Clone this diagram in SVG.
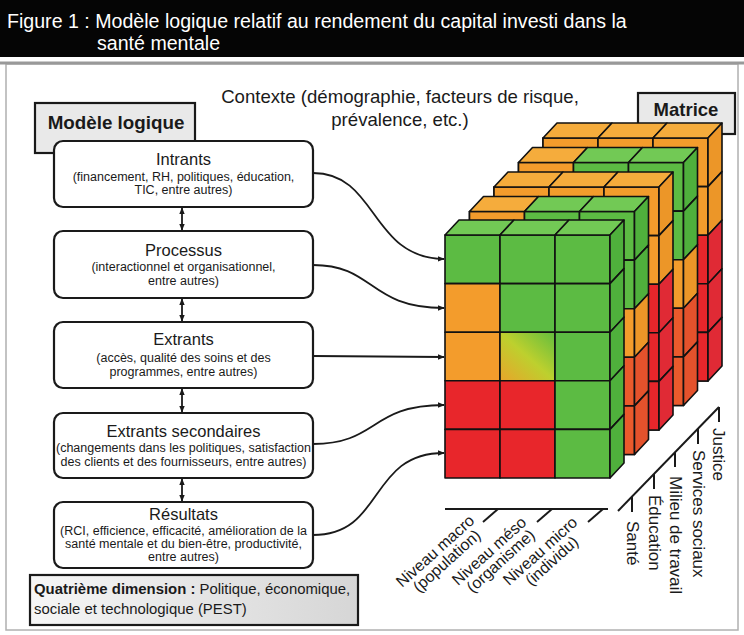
<svg xmlns="http://www.w3.org/2000/svg" width="744" height="635" viewBox="0 0 744 635">
<defs>
<style>
text{font-family:"Liberation Sans",Arial,sans-serif;fill:#1a1a1a}
.hd{fill:#fff;font-size:19.6px}
.box{fill:#fff;stroke:#1a1a1a;stroke-width:2.2}
.lbl{fill:#e9e9e9;stroke:#1a1a1a;stroke-width:2.2}
.ti{font-size:16.5px;text-anchor:middle}
.su{font-size:12.5px;text-anchor:middle}
.cx{font-size:18.6px;text-anchor:middle}
.bd{font-weight:bold}
.cb rect,.cb polygon{stroke:#111;stroke-width:1.6;stroke-linejoin:round}
.g{fill:#5cbb43}.gt{fill:#72c955}.gs{fill:#4fb03c}
.o{fill:#f39c2c}.ot{fill:#f5ac3c}.os{fill:#ec9628}
.r{fill:#e8262b}.rs{fill:#e02a35}
.q{fill:#ea5a2c}.qs{fill:#e4522c}
.yg{fill:url(#yg)}
.con{fill:none;stroke:#1a1a1a;stroke-width:1.8;marker-end:url(#ah)}
.dbl{fill:none;stroke:#1a1a1a;stroke-width:1.8;marker-start:url(#ah);marker-end:url(#ah)}
.ax{fill:none;stroke:#1a1a1a;stroke-width:2}
.al{font-size:16px;text-anchor:middle}
.ar{font-size:17px}
</style>
<marker id="ah" viewBox="0 0 10 10" refX="9" refY="5" markerWidth="7" markerHeight="7" orient="auto-start-reverse" markerUnits="userSpaceOnUse"><path d="M0,1 L10,5 L0,9 z" fill="#1a1a1a"/></marker>
<linearGradient id="yg" x1="0" y1="1" x2="1" y2="0"><stop offset="0" stop-color="#e9a42a"/><stop offset="0.5" stop-color="#bdd02e"/><stop offset="1" stop-color="#62bd3e"/></linearGradient>
<linearGradient id="qg" x1="0" y1="0" x2="1" y2="0"><stop offset="0" stop-color="#f6f6f6"/><stop offset="1" stop-color="#d6d6d6"/></linearGradient>
</defs>

<g id="header">
<rect x="0" y="0" width="744" height="57" fill="#050505"/>
<text class="hd" x="7" y="28">Figure 1 : Modèle logique relatif au rendement du capital investi dans la</text>
<text class="hd" x="97" y="50">santé mentale</text>
</g>
<g id="panel">
<rect x="6" y="64" width="732" height="566" fill="#fff" stroke="#b0b0b0" stroke-width="1.5"/>
<line x1="0" y1="63" x2="744" y2="63" stroke="#999" stroke-width="3"/>
</g>

<g id="contexte"><text class="cx" x="400" y="103">Contexte (démographie, facteurs de risque,</text><text class="cx" x="400" y="126">prévalence, etc.)</text></g>

<g id="modele-logique"><rect class="lbl" x="35" y="103" width="160" height="50"/><text class="bd" x="116" y="129" font-size="18.8" text-anchor="middle">Modèle logique</text></g>

<g id="matrice"><rect class="lbl" x="638" y="93" width="97" height="41"/><text class="bd" x="686" y="116" font-size="18.5" text-anchor="middle">Matrice</text></g>

<g id="intrants"><rect class="box" x="54" y="141" width="259" height="66" rx="9"/><text class="ti" x="183.5" y="165">Intrants</text><text class="su" x="183.5" y="181">(financement, RH, politiques, éducation,</text><text class="su" x="183.5" y="194">TIC, entre autres)</text></g>
<g id="processus"><rect class="box" x="54" y="231" width="259" height="67" rx="9"/><text class="ti" x="183.5" y="256">Processus</text><text class="su" x="183.5" y="271">(interactionnel et organisationnel,</text><text class="su" x="183.5" y="285">entre autres)</text></g>
<g id="extrants"><rect class="box" x="54" y="322" width="259" height="66" rx="9"/><text class="ti" x="183.5" y="345">Extrants</text><text class="su" x="183.5" y="362">(accès, qualité des soins et des</text><text class="su" x="183.5" y="376">programmes, entre autres)</text></g>
<g id="extrants-secondaires"><rect class="box" x="54" y="413" width="259" height="65" rx="9"/><text class="ti" x="183.5" y="437">Extrants secondaires</text><text class="su" x="183.5" y="452">(changements dans les politiques, satisfaction</text><text class="su" x="183.5" y="466">des clients et des fournisseurs, entre autres)</text></g>
<g id="resultats"><rect class="box" x="54" y="502" width="259" height="66" rx="9"/><text class="ti" x="183.5" y="520">Résultats</text><text class="su" x="183.5" y="535">(RCI, efficience, efficacité, amélioration de la</text><text class="su" x="183.5" y="548">santé mentale et du bien-être, productivité,</text><text class="su" x="183.5" y="561">entre autres)</text></g>

<g id="quatrieme"><rect x="30" y="575" width="328" height="50" fill="url(#qg)" stroke="#1a1a1a" stroke-width="2.2"/><text x="34" y="594" font-size="14.9"><tspan class="bd">Quatrième dimension :</tspan> Politique, économique,</text><text x="34" y="614" font-size="14.9">sociale et technologique (PEST)</text></g>

<g id="cube" class="cb">
<g id="justice" transform="translate(543,138)">
<rect class="o" x="0" y="0" width="165" height="243"/>
<rect class="o" x="0" y="0" width="55" height="48.6"/><rect class="o" x="55" y="0" width="55" height="48.6"/><rect class="o" x="110" y="0" width="55" height="48.6"/>
<rect class="o" x="110" y="48.6" width="55" height="48.6"/><rect class="r" x="110" y="97.2" width="55" height="48.6"/><rect class="r" x="110" y="145.8" width="55" height="48.6"/><rect class="r" x="110" y="194.4" width="55" height="48.6"/>
<polygon class="ot" points="0,0 55,0 69,-15 14,-15"/><polygon class="ot" points="55,0 110,0 124,-15 69,-15"/><polygon class="ot" points="110,0 165,0 179,-15 124,-15"/>
<polygon class="os" points="165,0 179,-15 179,33.6 165,48.6"/><polygon class="os" points="165,48.6 179,33.6 179,82.2 165,97.2"/><polygon class="rs" points="165,97.2 179,82.2 179,130.8 165,145.8"/><polygon class="rs" points="165,145.8 179,130.8 179,179.4 165,194.4"/><polygon class="rs" points="165,194.4 179,179.4 179,228 165,243"/>
</g>
<g id="services-sociaux" transform="translate(518.5,162.5)">
<rect class="g" x="0" y="0" width="165" height="243"/>
<rect class="o" x="0" y="0" width="55" height="48.6"/><rect class="g" x="55" y="0" width="55" height="48.6"/><rect class="g" x="110" y="0" width="55" height="48.6"/>
<rect class="g" x="110" y="48.6" width="55" height="48.6"/><rect class="o" x="110" y="97.2" width="55" height="48.6"/><rect class="q" x="110" y="145.8" width="55" height="48.6"/><rect class="q" x="110" y="194.4" width="55" height="48.6"/>
<polygon class="ot" points="0,0 55,0 69,-15 14,-15"/><polygon class="gt" points="55,0 110,0 124,-15 69,-15"/><polygon class="gt" points="110,0 165,0 179,-15 124,-15"/>
<polygon class="gs" points="165,0 179,-15 179,33.6 165,48.6"/><polygon class="gs" points="165,48.6 179,33.6 179,82.2 165,97.2"/><polygon class="os" points="165,97.2 179,82.2 179,130.8 165,145.8"/><polygon class="qs" points="165,145.8 179,130.8 179,179.4 165,194.4"/><polygon class="qs" points="165,194.4 179,179.4 179,228 165,243"/>
</g>
<g id="milieu-de-travail" transform="translate(494,187)">
<rect class="o" x="0" y="0" width="165" height="243"/>
<rect class="o" x="0" y="0" width="55" height="48.6"/><rect class="o" x="55" y="0" width="55" height="48.6"/><rect class="o" x="110" y="0" width="55" height="48.6"/>
<rect class="o" x="110" y="48.6" width="55" height="48.6"/><rect class="r" x="110" y="97.2" width="55" height="48.6"/><rect class="r" x="110" y="145.8" width="55" height="48.6"/><rect class="r" x="110" y="194.4" width="55" height="48.6"/>
<polygon class="ot" points="0,0 55,0 69,-15 14,-15"/><polygon class="ot" points="55,0 110,0 124,-15 69,-15"/><polygon class="ot" points="110,0 165,0 179,-15 124,-15"/>
<polygon class="os" points="165,0 179,-15 179,33.6 165,48.6"/><polygon class="os" points="165,48.6 179,33.6 179,82.2 165,97.2"/><polygon class="rs" points="165,97.2 179,82.2 179,130.8 165,145.8"/><polygon class="rs" points="165,145.8 179,130.8 179,179.4 165,194.4"/><polygon class="rs" points="165,194.4 179,179.4 179,228 165,243"/>
</g>
<g id="education" transform="translate(469.5,211.5)">
<rect class="g" x="0" y="0" width="165" height="243"/>
<rect class="o" x="0" y="0" width="55" height="48.6"/><rect class="g" x="55" y="0" width="55" height="48.6"/><rect class="g" x="110" y="0" width="55" height="48.6"/>
<rect class="g" x="110" y="48.6" width="55" height="48.6"/><rect class="o" x="110" y="97.2" width="55" height="48.6"/><rect class="q" x="110" y="145.8" width="55" height="48.6"/><rect class="q" x="110" y="194.4" width="55" height="48.6"/>
<polygon class="ot" points="0,0 55,0 69,-15 14,-15"/><polygon class="gt" points="55,0 110,0 124,-15 69,-15"/><polygon class="gt" points="110,0 165,0 179,-15 124,-15"/>
<polygon class="gs" points="165,0 179,-15 179,33.6 165,48.6"/><polygon class="gs" points="165,48.6 179,33.6 179,82.2 165,97.2"/><polygon class="os" points="165,97.2 179,82.2 179,130.8 165,145.8"/><polygon class="qs" points="165,145.8 179,130.8 179,179.4 165,194.4"/><polygon class="qs" points="165,194.4 179,179.4 179,228 165,243"/>
</g>
<g id="sante" transform="translate(445,235)">
<rect class="g" x="0" y="0" width="55" height="48.6"/><rect class="g" x="55" y="0" width="55" height="48.6"/><rect class="g" x="110" y="0" width="55" height="48.6"/>
<rect class="o" x="0" y="48.6" width="55" height="48.6"/><rect class="g" x="55" y="48.6" width="55" height="48.6"/><rect class="g" x="110" y="48.6" width="55" height="48.6"/>
<rect class="o" x="0" y="97.2" width="55" height="48.6"/><rect class="yg" x="55" y="97.2" width="55" height="48.6"/><rect class="g" x="110" y="97.2" width="55" height="48.6"/>
<rect class="r" x="0" y="145.8" width="55" height="48.6"/><rect class="r" x="55" y="145.8" width="55" height="48.6"/><rect class="g" x="110" y="145.8" width="55" height="48.6"/>
<rect class="r" x="0" y="194.4" width="55" height="48.6"/><rect class="r" x="55" y="194.4" width="55" height="48.6"/><rect class="g" x="110" y="194.4" width="55" height="48.6"/>
<polygon class="gt" points="0,0 55,0 69,-15 14,-15"/><polygon class="gt" points="55,0 110,0 124,-15 69,-15"/><polygon class="gt" points="110,0 165,0 179,-15 124,-15"/>
<polygon class="gs" points="165,0 179,-15 179,33.6 165,48.6"/><polygon class="gs" points="165,48.6 179,33.6 179,82.2 165,97.2"/><polygon class="gs" points="165,97.2 179,82.2 179,130.8 165,145.8"/><polygon class="gs" points="165,145.8 179,130.8 179,179.4 165,194.4"/><polygon class="gs" points="165,194.4 179,179.4 179,228 165,243"/>
</g>
</g>

<g id="connectors">
<path class="dbl" d="M182,208 L182,230"/>
<path class="dbl" d="M182,299 L182,321"/>
<path class="dbl" d="M182,389 L182,412"/>
<path class="dbl" d="M182,479 L182,501"/>
<path class="con" d="M313,173 C378,173 370,258 444,259"/>
<path class="con" d="M313,265 C375,265 368,308 444,308"/>
<path class="con" d="M313,356 L444,357"/>
<path class="con" d="M313,444 C378,444 370,405 444,405"/>
<path class="con" d="M313,535 C385,535 368,453 444,453"/>
</g>

<g id="axe-niveaux">
<line class="ax" x1="445" y1="509" x2="608" y2="509"/>
<line class="ax" x1="498" y1="509" x2="483" y2="522"/>
<line class="ax" x1="552" y1="509" x2="537" y2="522"/>
<line class="ax" x1="603" y1="509" x2="588" y2="522"/>
<g transform="translate(483,522) rotate(-42)"><text class="al" x="-55" y="-5">Niveau macro</text><text class="al" x="-53" y="10">(population)</text></g>
<g transform="translate(537,522) rotate(-42)"><text class="al" x="-55" y="-5">Niveau méso</text><text class="al" x="-53" y="10">(organisme)</text></g>
<g transform="translate(588,522) rotate(-42)"><text class="al" x="-55" y="-5">Niveau micro</text><text class="al" x="-53" y="10">(individu)</text></g>
</g>

<g id="axe-secteurs">
<line class="ax" x1="618" y1="511" x2="719" y2="407"/>
<line class="ax" x1="632" y1="496.6" x2="632" y2="512"/>
<line class="ax" x1="654" y1="474" x2="654" y2="489"/>
<line class="ax" x1="675" y1="452" x2="675" y2="467"/>
<line class="ax" x1="698" y1="428.6" x2="698" y2="444"/>
<line class="ax" x1="719" y1="407" x2="719" y2="422"/>
<text class="ar" transform="translate(627,521) rotate(90)">Santé</text>
<text class="ar" transform="translate(649,495) rotate(90)">Éducation</text>
<text class="ar" transform="translate(670,476) rotate(90)">Milieu de travail</text>
<text class="ar" transform="translate(693,450) rotate(90)">Services sociaux</text>
<text class="ar" transform="translate(713,428) rotate(90)">Justice</text>
</g>
</svg>
